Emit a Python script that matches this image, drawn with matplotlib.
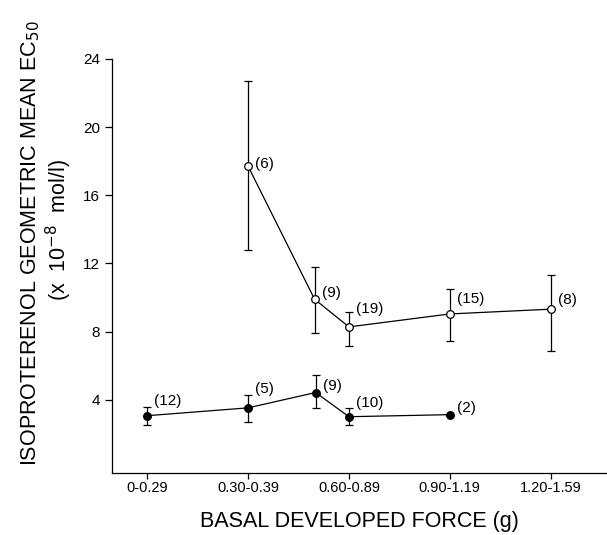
import matplotlib.pyplot as plt

plt.rcParams["font.family"] = ["Liberation Sans", "DejaVu Sans"]

# category bins on the x axis
categories = ["0-0.29", "0.30-0.39", "0.60-0.89", "0.90-1.19", "1.20-1.59"]

# filled circles
filled_x = [0, 1, 1.67, 2, 3]
filled_y = [3.06, 3.52, 4.42, 3.0, 3.12]
filled_lo = [2.52, 2.7, 3.5, 2.52, None]
filled_hi = [3.58, 4.26, 5.46, 3.52, None]
filled_n = ["(12)", "(5)", "(9)", "(10)", "(2)"]

# open circles
open_x = [1, 1.66, 2, 3, 4]
open_y = [17.7, 9.89, 8.27, 9.03, 9.31]
open_lo = [12.78, 7.93, 7.16, 7.42, 6.86]
open_hi = [22.7, 11.77, 9.13, 10.47, 11.33]
open_n = ["(6)", "(9)", "(19)", "(15)", "(8)"]

# label lift above each point, in pixels
filled_dy = [15, 19, 7, 14, 7]
open_dy = [2, 6, 18, 15, 9]


def draw_series(ax, xs, ys, lo, hi, labels, lifts, face):
    ax.plot(xs, ys, color="black", lw=0.9, zorder=2)
    for x, y, l, h, lab, dy in zip(xs, ys, lo, hi, labels, lifts):
        if l is not None:
            ax.errorbar([x], [y], yerr=[[y - l], [h - y]], fmt="none",
                        ecolor="black", elinewidth=0.9, capsize=3,
                        capthick=0.9, zorder=1)
        ax.annotate(lab, (x, y), xytext=(7, dy), textcoords="offset pixels",
                    ha="left", va="center", fontsize=11)
    ax.plot(xs, ys, "o", mfc=face, mec="black", mew=0.9, ms=5.5, zorder=3,
            ls="none")


fig = plt.figure(figsize=(6.07, 5.35), dpi=100)
ax = fig.add_axes([0.1845, 0.116, 0.8155, 0.774])

draw_series(ax, filled_x, filled_y, filled_lo, filled_hi, filled_n,
            filled_dy, "black")
draw_series(ax, open_x, open_y, open_lo, open_hi, open_n, open_dy, "white")

ax.set_xlim(-0.35, 4.56)
ax.set_ylim(-0.3, 24)
ax.set_xticks(range(len(categories)))
ax.set_xticklabels(categories, fontsize=10.5)
ax.set_yticks([4, 8, 12, 16, 20, 24])
ax.tick_params(axis="y", labelsize=11, length=5, width=0.9)
ax.tick_params(axis="x", length=4, width=0.9, pad=1.5)

for side in ["top", "right"]:
    ax.spines[side].set_visible(False)
for side in ["left", "bottom"]:
    ax.spines[side].set_linewidth(0.9)

ax.set_xlabel("BASAL DEVELOPED FORCE (g)", fontsize=15.5, labelpad=12)
fig.text(0.05, 0.545, "ISOPROTERENOL GEOMETRIC MEAN EC$_{50}$",
         rotation=90, ha="center", va="center", fontsize=15.5)
fig.text(0.097, 0.57, "(x  10$^{-8}$  mol/l)", rotation=90,
         ha="center", va="center", fontsize=15.5)

fig.savefig("out.png", dpi=100)
